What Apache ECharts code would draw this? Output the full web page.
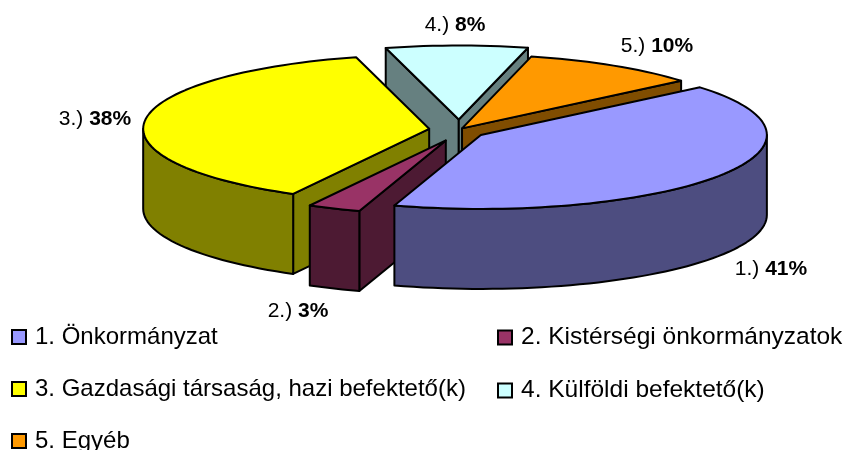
<!DOCTYPE html>
<html>
<head>
<meta charset="utf-8">
<style>
  html, body { margin: 0; padding: 0; background: #fff; }
  #main { width: 844px; height: 450px; }
</style>
<script src="https://cdn.jsdelivr.net/npm/echarts@6/dist/echarts.min.js"></script>
</head>
<body>
<div id="main"></div>
<script>
const categories = ['1. Önkormányzat', '2. Kistérségi önkormányzatok', '3. Gazdasági társaság, hazi befektető(k)', '4. Külföldi befektető(k)', '5. Egyéb'];
const labelPrefix = ['1.)', '2.)', '3.)', '4.)', '5.)'];
const values = [41, 3, 38, 8, 10];

// colours of the pie
const topColors = ['#9999FF', '#993366', '#FFFF00', '#CCFFFF', '#FF9900'];
const sideColors = ['#4D4D80', '#4D1A33', '#808000', '#668080', '#804D00'];

// layout of the fake 3d pie
const cx = 459, cy = 130, rx = 286, ry = 74, explodeRy = 96, depth = 80;
const firstAngle = -40;
const explode = [0.092, 0.118, 0.105, 0.109, 0.02];
const drawOrder = [3, 4, 2, 1, 0]; // back to front, the big slice sits on top of slice 2
const labelPos = [[771, 269], [298, 311], [95, 119], [455, 25], [657, 46]];

const total = values.reduce((a, b) => a + b, 0);
const rad = d => d * Math.PI / 180;

function sliceAngles(i) {
  let start = firstAngle;
  for (let k = 0; k < i; k++) start += values[k] / total * 360;
  return [start, start + values[i] / total * 360];
}

function arcPoints(ax, ay, from, to, dy) {
  const pts = [];
  const n = Math.max(2, Math.ceil((to - from) / 2));
  for (let k = 0; k <= n; k++) {
    const t = rad(from + (to - from) * k / n);
    pts.push([ax + rx * Math.cos(t), ay + ry * Math.sin(t) + dy]);
  }
  return pts;
}

function face(points, fill) {
  return {
    type: 'polygon',
    shape: { points: points },
    style: { fill: fill, stroke: '#000', lineWidth: 2, lineJoin: 'round' }
  };
}

function cutFace(ax, ay, angle, fill) {
  const px = ax + rx * Math.cos(rad(angle));
  const py = ay + ry * Math.sin(rad(angle));
  return face([[ax, ay], [px, py], [px, py + depth], [ax, ay + depth]], fill);
}

function renderSlice(i) {
  const [start, end] = sliceAngles(i);
  const mid = rad((start + end) / 2);
  const ax = cx + explode[i] * rx * Math.cos(mid);
  const ay = cy + explode[i] * explodeRy * Math.sin(mid);
  const children = [];

  // cut faces, only the ones turned to the viewer
  if (Math.sin(rad(start - 90)) > 0) children.push(cutFace(ax, ay, start, sideColors[i]));
  if (Math.sin(rad(end + 90)) > 0) children.push(cutFace(ax, ay, end, sideColors[i]));

  // outer wall, front half of the ellipse only
  const wallFrom = Math.max(start, 0), wallTo = Math.min(end, 180);
  if (wallTo > wallFrom) {
    const upper = arcPoints(ax, ay, wallFrom, wallTo, 0);
    const lower = arcPoints(ax, ay, wallFrom, wallTo, depth).reverse();
    children.push(face(upper.concat(lower), sideColors[i]));
  }

  children.push(face([[ax, ay]].concat(arcPoints(ax, ay, start, end, 0)), topColors[i]));

  children.push({
    type: 'text',
    x: labelPos[i][0],
    y: labelPos[i][1],
    z2: 100,
    style: {
      text: '{a|' + labelPrefix[i] + ' }{b|' + values[i] + '%}',
      align: 'center',
      verticalAlign: 'middle',
      rich: {
        a: { fontFamily: 'Liberation Sans', fontSize: 21, fill: '#000' },
        b: { fontFamily: 'Liberation Sans', fontSize: 21, fontWeight: 'bold', fill: '#000' }
      }
    }
  });
  return { type: 'group', children: children };
}

const legendBase = {
  orient: 'vertical',
  icon: 'rect',
  itemWidth: 14,
  itemHeight: 14,
  itemGap: 28,
  padding: 0,
  height: 200,
  selectedMode: false,
  itemStyle: { borderColor: '#000', borderWidth: 2 }
};
const legendText = size => ({ fontFamily: 'Liberation Sans', fontSize: size, color: '#000', padding: [0, 0, 0, 4] });

const chart = echarts.init(document.getElementById('main'), null, { renderer: 'canvas' });
chart.setOption({
  animation: false,
  legend: [
    Object.assign({}, legendBase, { left: 11, top: 325, textStyle: legendText(24), data: [categories[0], categories[2], categories[4]] }),
    Object.assign({}, legendBase, { left: 497, top: 325, textStyle: legendText(24.5), data: [categories[1], categories[3]] })
  ],
  series: drawOrder.map(i => ({
    type: 'custom',
    name: categories[i],
    coordinateSystem: 'none',
    silent: true,
    itemStyle: { color: topColors[i] },
    data: [[values[i]]],
    renderItem: () => renderSlice(i)
  }))
});
</script>
</body>
</html>
